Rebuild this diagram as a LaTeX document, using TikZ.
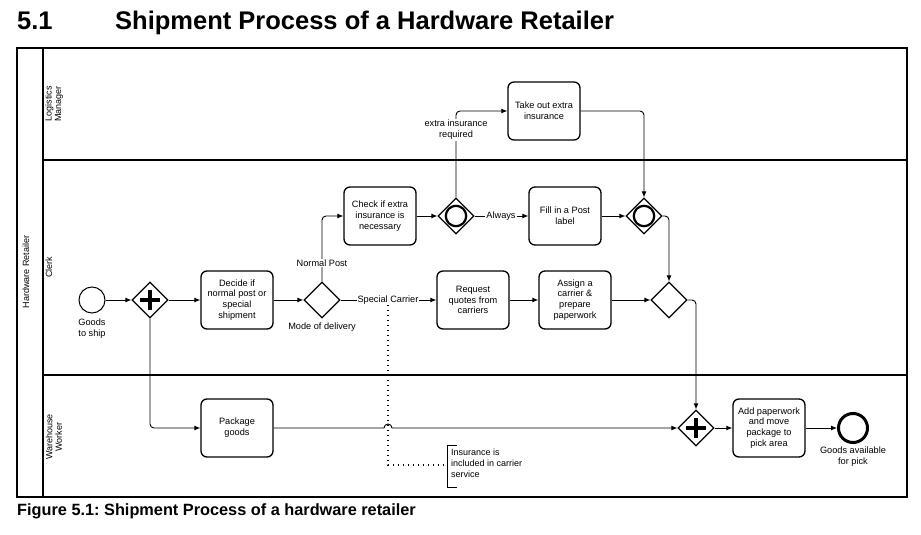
\documentclass[tikz,border=0pt]{standalone}
\usepackage{fontspec}
\setmainfont{Liberation Sans}
\usetikzlibrary{arrows.meta,shapes.geometric}
\frenchspacing
\tikzset{
  task/.style={draw, line width=1.3pt, rounded corners=6pt, minimum width=72pt, minimum height=58pt, align=center, inner sep=1pt, font=\fontsize{9.2}{10.8}\selectfont},
  gw/.style={draw, diamond, line width=1.2pt, minimum width=36pt, minimum height=36pt, inner sep=0pt},
  flow/.style={line width=0.9pt, -{Latex[length=6pt,width=5pt]}, rounded corners=4pt},
  lbl/.style={font=\fontsize{9.2}{10.8}\selectfont, align=center, inner sep=1pt},
  lane/.style={font=\fontsize{9}{9.5}\selectfont, align=center, rotate=90, inner sep=0pt},
  plusbar/.style={line width=3.5pt},
  ring/.style={line width=2.2pt},
}
\begin{document}
\begin{tikzpicture}[x=1pt,y=-1pt]
\useasboundingbox (0,0) rectangle (921,535);
% title
\node[anchor=base west, inner sep=0pt, font=\fontsize{25.5}{28}\selectfont\bfseries] (num) at (17,30) {5.1};
\node[anchor=base west, inner sep=0pt, font=\fontsize{25.5}{28}\selectfont\bfseries] (title) at (115,30) {Shipment Process of a Hardware Retailer};
\node[anchor=base west, inner sep=0pt, font=\fontsize{16.3}{18}\selectfont\bfseries] (cap) at (17,515) {Figure 5.1: Shipment Process of a hardware retailer};
% pool
\draw[line width=2pt] (17,48) rectangle (907,497);
\draw[line width=1.5pt] (43,48) -- (43,497);
\draw[line width=1.2pt] (43,160) -- (907,160);
\draw[line width=1.2pt] (43,375) -- (907,375);
\node[lane] (pool) at (26,272) {Hardware Retailer};
\node[lane] (l1) at (54,104) {Logistics\\Manager};
\node[lane] (l2) at (49,267) {Clerk};
\node[lane] (l3) at (54,437) {Warehouse\\Worker};
% events
\node[draw, circle, line width=1pt, minimum size=26pt, inner sep=0pt] (start) at (92,300) {};
\node[lbl] (startl) at (92,329) {Goods\\to ship};
\node[draw, circle, line width=3pt, minimum size=29pt, inner sep=0pt] (end) at (853,428) {};
\node[lbl] (endl) at (853,457) {Goods available\\for pick};
% gateways
\node[gw] (g1) at (150,300) {};
\draw[plusbar] ([xshift=-10pt]g1.center) -- ([xshift=10pt]g1.center);
\draw[plusbar] ([yshift=-10pt]g1.center) -- ([yshift=10pt]g1.center);
\node[gw] (mode) at (322,300) {};
\node[lbl] (model) at (322,327) {Mode of delivery};
\node[gw] (g3) at (456,216) {};
\draw[ring] (g3.center) circle[radius=10.2pt];
\node[gw] (g4) at (644,216) {};
\draw[ring] (g4.center) circle[radius=10.2pt];
\node[gw] (g5) at (669,300) {};
\node[gw] (join) at (696,428) {};
\draw[plusbar] ([xshift=-10pt]join.center) -- ([xshift=10pt]join.center);
\draw[plusbar] ([yshift=-10pt]join.center) -- ([yshift=10pt]join.center);
% tasks
\node[task] (decide) at (237,300) {Decide if\\normal post or\\special\\shipment};
\node[task] (check) at (380,216) {Check if extra\\insurance is\\necessary};
\node[task] (take) at (544,111) {Take out extra\\insurance};
\node[task] (fill) at (565,216) {Fill in a Post\\label};
\node[task] (req) at (473,300) {Request\\quotes from\\carriers};
\node[task] (assign) at (575,300) {Assign a\\carrier \&\\prepare\\paperwork};
\node[task] (pack) at (237,428) {Package\\goods};
\node[task] (add) at (769,428) {Add paperwork\\and move\\package to\\pick area};
% annotation
\coordinate (assoc) at (388,300);
\coordinate (abend) at (388,465);
\coordinate (annl) at (447,465);
\draw[line width=1.5pt, dash pattern=on 1.3pt off 3.7pt] (assoc) -- (abend) -- (annl);
\draw[line width=0.8pt] (457,445) -- (447,445) -- (447,487) -- (457,487);
\node[anchor=north west, align=left, inner sep=0pt, font=\fontsize{9}{10.8}\selectfont] (ann) at (451,449) {Insurance is\\included in carrier\\service};
% flows
\draw[flow] (start) -- (g1.west);
\draw[flow] (g1.east) -- (decide.west);
\draw[flow] (decide.east) -- (mode.west);
\draw[flow] (mode.north) |- (check.west);
\draw[flow] (mode.east) -- (req.west);
\draw[flow] (check.east) -- (g3.west);
\draw[flow] (g3.east) -- (fill.west);
\draw[flow] (g3.north) |- (take.west);
\draw[flow] (take.east) -| (g4.north);
\draw[flow] (fill.east) -- (g4.west);
\draw[flow] (g4.east) -| (g5.north);
\draw[flow] (req.east) -- (assign.west);
\draw[flow] (assign.east) -- (g5.west);
\draw[flow] (g5.east) -| (join.north);
\draw[flow] (g1.south) |- (pack.west);
\coordinate (hopa) at (384,428);
\draw[flow, rounded corners=0pt] (pack.east) -- (hopa) arc[start angle=180, end angle=0, radius=4pt] -- (join.west);
\draw[flow] (join.east) -- (add.west);
\draw[flow] (add.east) -- (end.west);
% flow labels
\node[lbl, fill=white] (npl) at (322,263) {Normal Post};
\node[lbl, fill=white] (scl) at (388,300) {Special Carrier};
\node[lbl, fill=white] (alw) at (501,216) {Always};
\node[lbl, fill=white] (eir) at (456,130) {extra insurance\\required};
\end{tikzpicture}
\end{document}
